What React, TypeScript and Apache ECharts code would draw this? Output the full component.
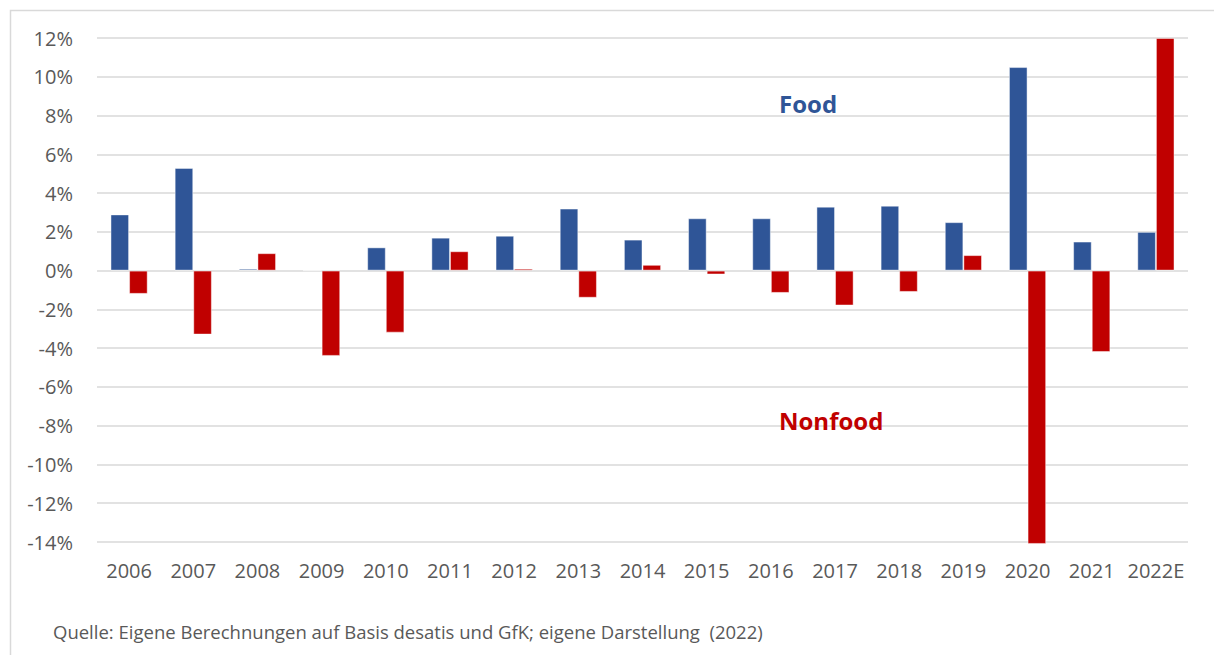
import React, { useEffect, useRef } from "react";
import * as echarts from "echarts";

const categories = ["2006","2007","2008","2009","2010","2011","2012","2013","2014","2015","2016","2017","2018","2019","2020","2021","2022E"];
const food = [2.9, 5.3, 0.1, 0, 1.2, 1.7, 1.8, 3.2, 1.6, 2.7, 2.7, 3.3, 3.35, 2.5, 10.5, 1.5, 2.0];
const nonfood = [-1.2, -3.3, 0.9, -4.4, -3.2, 1.0, 0.1, -1.4, 0.3, -0.2, -1.15, -1.8, -1.1, 0.8, -14.1, -4.2, 12.0];
const source = "Quelle: Eigene Berechnungen auf Basis desatis und GfK; eigene Darstellung  (2022)";

export default function App() {
  const ref = useRef<HTMLDivElement>(null);
  useEffect(() => {
    if (!ref.current) return;
    const chart = echarts.init(ref.current, null, { renderer: "svg" });
    const font = "'Open Sans', 'Liberation Sans', sans-serif";
    chart.setOption({
      animation: false,
      backgroundColor: "#ffffff",
      textStyle: { fontFamily: font },
      grid: { left: 97, right: 26, top: 38, bottom: 113, containLabel: false },
      xAxis: {
        type: "category",
        data: categories,
        position: "bottom",
        axisLine: { show: false, onZero: false },
        axisTick: { show: false },
        axisLabel: { color: "#595959", fontSize: 20, fontFamily: font, margin: 18, interval: 0 },
      },
      yAxis: {
        type: "value",
        min: -14,
        max: 12,
        interval: 2,
        axisLine: { show: false },
        axisTick: { show: false },
        axisLabel: { color: "#595959", fontSize: 20, fontFamily: font, margin: 24, formatter: (v: number) => `${v}%` },
        splitLine: { lineStyle: { color: "#d9d9d9", width: 1.5 } },
      },
      series: [
        {
          name: "Food",
          type: "bar",
          data: food,
          barGap: "0%",
          barCategoryGap: "42%",
          clip: false,
          itemStyle: { color: "#2F5597", borderColor: "rgba(255,255,255,0.45)", borderWidth: 1 },
        },
        {
          name: "Nonfood",
          type: "bar",
          data: nonfood,
          barGap: "0%",
          barCategoryGap: "42%",
          clip: false,
          itemStyle: { color: "#C00000", borderColor: "rgba(255,255,255,0.45)", borderWidth: 1 },
        },
      ],
      graphic: [
        { type: "rect", left: 8, top: 8, shape: { width: 1240, height: 700 }, style: { fill: "none", stroke: "#d9d9d9", lineWidth: 1.5 }, silent: true, z: -10 },
        { type: "text", x: 779, y: 91, z: 100, style: { text: "Food", fill: "#2F5597", font: `bold 24px ${font}` } },
        { type: "text", x: 779, y: 408, z: 100, style: { text: "Nonfood", fill: "#C00000", font: `bold 24px ${font}` } },
        { type: "text", x: 53, y: 622, z: 100, style: { text: source, fill: "#595959", font: `18.5px ${font}` } },
      ],
    });
    return () => chart.dispose();
  }, []);
  return <div ref={ref} style={{ position: "fixed", left: 0, top: 0, width: 1214, height: 655 }} />;
}
